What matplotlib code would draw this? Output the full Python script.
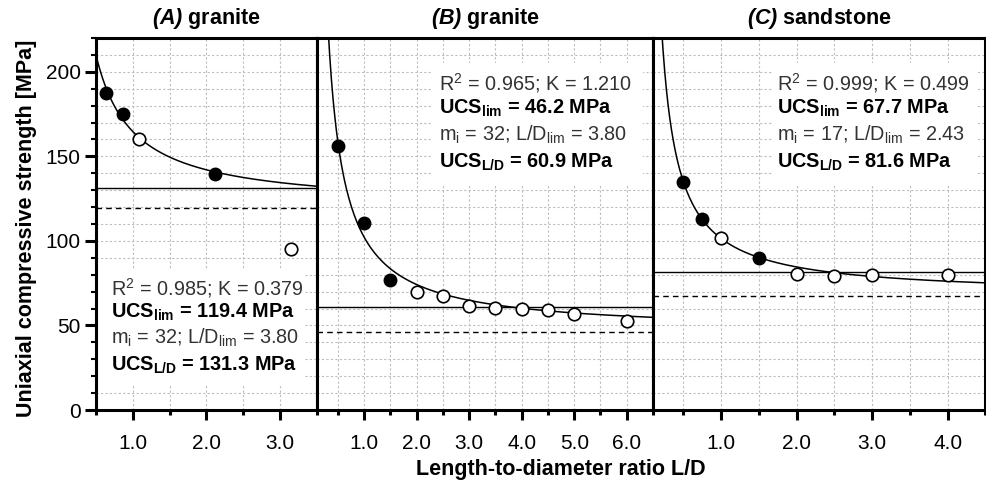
import numpy as np
import matplotlib
matplotlib.use('Agg')
import matplotlib.pyplot as plt
from matplotlib.patches import Rectangle
from matplotlib.ticker import MultipleLocator, FixedLocator, FormatStrFormatter

plt.rcParams['font.family'] = ['Liberation Sans', 'DejaVu Sans']
plt.rcParams['mathtext.fontset'] = 'custom'
plt.rcParams['mathtext.rm'] = 'Liberation Sans'
plt.rcParams['mathtext.it'] = 'Liberation Sans:italic'
plt.rcParams['mathtext.bf'] = 'Liberation Sans:bold'
plt.rcParams['mathtext.bfit'] = 'Liberation Sans:italic:bold'

# donnees (points pleins / points vides)
A_x_plein = [0.63, 0.87, 2.12]
A_y_plein = [187.5, 175, 139.5]
A_x_vide = [1.08, 3.15]
A_y_vide = [160, 95.5]

B_x_plein = [0.5, 1.0, 1.5]
B_y_plein = [156, 110.5, 77]
B_x_vide = [2.0, 2.5, 3.0, 3.5, 4.0, 4.5, 5.0, 6.0]
B_y_vide = [70, 67.5, 61.7, 60.3, 59.5, 59, 56.5, 52.5]

C_x_plein = [0.5, 0.75, 1.5]
C_y_plein = [135, 113, 90]
C_x_vide = [1.0, 2.0, 2.5, 3.0, 4.0]
C_y_vide = [101.7, 80.7, 79.1, 79.9, 79.9]

# parametres du modele UCS = UCS_lim * (1 + K / (L/D)), affiches dans chaque panneau
titres = ['(A)', '(B)', '(C)']
roches = ['granite', 'granite', 'sandstone']
R2 = ['0.985', '0.965', '0.999']
K = [0.379, 1.210, 0.499]
ucs_lim = [119.4, 46.2, 67.7]
mi = [32, 32, 17]
LD_lim = ['3.80', '3.80', '2.43']
ucs_LD = [131.3, 60.9, 81.6]

donnees = [(A_x_plein, A_y_plein, A_x_vide, A_y_vide),
           (B_x_plein, B_y_plein, B_x_vide, B_y_vide),
           (C_x_plein, C_y_plein, C_x_vide, C_y_vide)]

xlims = [(0.5, 3.5), (0.1, 6.5), (0.1, 4.5)]
major_x = [[1, 2, 3], [1, 2, 3, 4, 5, 6], [1, 2, 3, 4]]

W, H = 987, 482
fig = plt.figure(figsize=(W / 100, H / 100), dpi=100)

# position des panneaux en pixels (gauche, droite), haut 38 bas 410
bords = [(96, 317), (317, 653), (653, 985.5)]
haut, bas = 38, 410

# position du texte et du cadre blanc (fraction d'axe)
pos_texte = [(0.066, [0.328, 0.263, 0.194, 0.121]),
             (0.363, [0.879, 0.812, 0.739, 0.667]),
             (0.374, [0.879, 0.812, 0.739, 0.667])]
cadres = [(0.0, 0.067, 0.94, 0.309),
          (0.345, 0.608, 0.625, 0.325),
          (0.357, 0.608, 0.62, 0.325)]

for i in range(3):
    g, d = bords[i]
    ax = fig.add_axes([g / W, 1 - bas / H, (d - g) / W, (bas - haut) / H])
    ax.set_xlim(*xlims[i])
    ax.set_ylim(0, 220)
    ax.set_axisbelow(True)

    # grille pointillee
    ax.xaxis.set_major_locator(FixedLocator(major_x[i]))
    ax.xaxis.set_minor_locator(MultipleLocator(0.5))
    ax.xaxis.set_major_formatter(FormatStrFormatter('%.1f'))
    ax.yaxis.set_major_locator(MultipleLocator(50))
    ax.yaxis.set_minor_locator(MultipleLocator(10))
    ax.grid(True, which='both', color='#bdbdbd', linestyle=(0, (2, 2)), linewidth=0.8)

    for s in ax.spines.values():
        s.set_linewidth(2.2)

    ax.tick_params(axis='x', which='major', direction='out', length=7, width=2.2,
                   labelsize=15, pad=10)
    ax.tick_params(axis='x', which='minor', direction='out', length=3.5, width=2.2)
    if i == 0:
        ax.tick_params(axis='y', which='major', direction='out', length=8, width=2.2,
                       labelsize=15, pad=3)
        ax.tick_params(axis='y', which='minor', direction='out', length=3.5, width=1.5)
    else:
        ax.tick_params(axis='y', which='both', length=0, labelleft=False)

    # courbe du modele
    xc = np.linspace(xlims[i][0], xlims[i][1], 400)
    ax.plot(xc, ucs_lim[i] * (1 + K[i] / xc), color='black', linewidth=1.1, zorder=3)

    # lignes horizontales UCS_L/D (continue) et UCS_lim (tirets)
    ax.axhline(ucs_LD[i], color='black', linewidth=1.0, zorder=2)
    ax.axhline(ucs_lim[i], color='black', linewidth=1.0, linestyle=(0, (4, 3)), zorder=2)

    xp, yp, xv, yv = donnees[i]
    ax.plot(xp, yp, 'o', color='black', markersize=9, zorder=4)
    ax.plot(xv, yv, 'o', markerfacecolor='white', markeredgecolor='black',
            markeredgewidth=1.2, markersize=9, zorder=4)

    # cadre blanc derriere le texte
    cx, cy, cw, ch = cadres[i]
    ax.add_patch(Rectangle((cx, cy), cw, ch, transform=ax.transAxes,
                           facecolor='white', edgecolor='none', zorder=1))

    tx, ty = pos_texte[i]
    lignes = [('R$^\\mathdefault{2}$ = ' + R2[i] + '; K = ' + '%.3f' % K[i], 'normal', '#333333'),
              ('UCS$_\\mathdefault{lim}$ = ' + '%.1f' % ucs_lim[i] + ' MPa', 'bold', 'black'),
              ('m$_\\mathdefault{i}$ = ' + str(mi[i]) + '; L/D$_\\mathdefault{lim}$ = ' + LD_lim[i], 'normal', '#333333'),
              ('UCS$_\\mathdefault{L/D}$ = ' + '%.1f' % ucs_LD[i] + ' MPa', 'bold', 'black')]
    for j in range(4):
        ax.text(tx, ty[j], lignes[j][0], transform=ax.transAxes, fontsize=14.3,
                fontweight=lignes[j][1], color=lignes[j][2], va='center', ha='left', zorder=5)

    ax.set_title('$\\mathbfit{' + titres[i] + '}$ ' + roches[i], fontsize=15.5,
                 fontweight='bold', pad=10)

fig.text(27 / W, 1 - 228 / H, 'Uniaxial compressive strength [MPa]', rotation=90,
         fontsize=15.5, fontweight='bold', ha='center', va='center')
fig.text(561 / W, 1 - 469 / H, 'Length-to-diameter ratio L/D', fontsize=15.5,
         fontweight='bold', ha='center', va='center')

plt.savefig('out.png', dpi=100)
